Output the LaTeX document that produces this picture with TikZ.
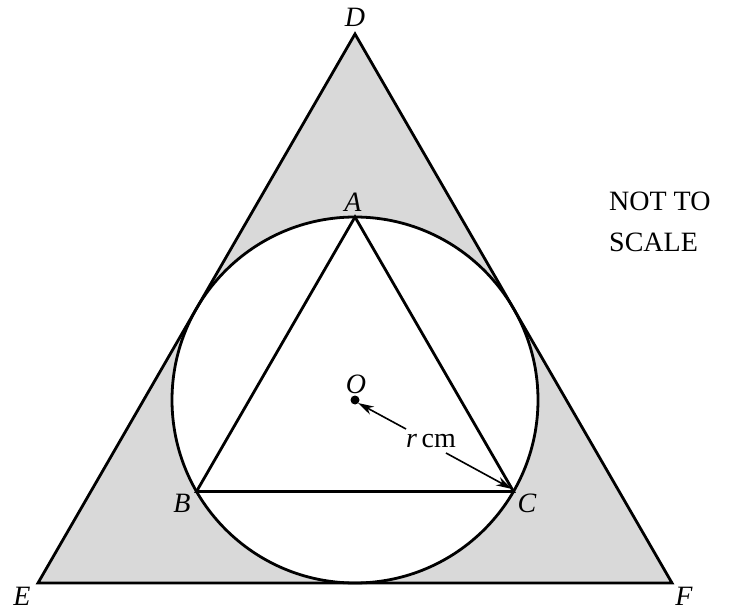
\documentclass[tikz,border=0pt]{standalone}
\usepackage{fontspec}
\setmainfont{Liberation Serif}
\usetikzlibrary{arrows.meta}
\begin{document}
\begin{tikzpicture}[x=1pt,y=-1pt,
  edge/.style={line width=2.8pt, line join=miter},
  lbl/.style={font=\fontsize{28}{32}\selectfont\itshape, inner sep=0pt, anchor=base},
  txt/.style={font=\fontsize{28}{32}\selectfont, inner sep=0pt},
  ptr/.style={line width=1.6pt, -{Stealth[length=16pt,width=9pt]}}]
\useasboundingbox (0,0) rectangle (731,612);
\coordinate (D) at (355,34);
\coordinate (E) at (38,583);
\coordinate (F) at (672,583);
\coordinate (O) at (355,400);
\coordinate (A) at (355,217);
\coordinate (B) at (196.5,491.5);
\coordinate (C) at (513.5,491.5);
\fill[gray!30] (D) -- (E) -- (F) -- cycle;
\fill[white] (O) circle[radius=183];
\draw[edge] (D) -- (E) -- (F) -- cycle;
\draw[edge] (O) circle[radius=183];
\draw[edge] (A) -- (B) -- (C) -- cycle;
\fill (O) circle[radius=4.5];
\node[lbl] (lD) at (355,27) {D};
\node[lbl] (lA) at (353,212) {A};
\node[lbl] (lO) at (356,393) {O};
\node[lbl] (lB) at (182,512) {B};
\node[lbl] (lC) at (527,512) {C};
\node[lbl] (lE) at (22,605) {E};
\node[lbl] (lF) at (684,605) {F};
\node[txt, anchor=base] (r) at (431,447) {\textit{r}\,cm};
\coordinate (r1) at (406,429);
\coordinate (r2) at (446,453);
\coordinate (O1) at (358,403);
\coordinate (C1) at (512,489);
\draw[ptr] (r1) -- (O1);
\draw[ptr] (r2) -- (C1);
\node[txt, anchor=base west] (nts1) at (609,211) {NOT TO};
\node[txt, anchor=base west] (nts2) at (609,252) {SCALE};
\end{tikzpicture}
\end{document}
